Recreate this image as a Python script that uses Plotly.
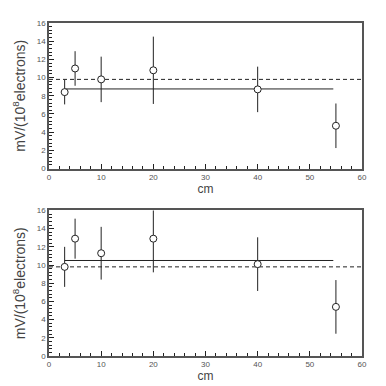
"""Signal per 10^8 electrons vs distance (two panels), fitted constant and reference level"""
import plotly.graph_objects as go
from plotly.subplots import make_subplots

# distance (cm)
X_CM = [3, 5, 10, 20, 40, 55]

# top panel
TOP_Y = [8.4, 11.0, 9.8, 10.8, 8.7, 4.7]
TOP_ERR = [1.35, 1.9, 2.5, 3.7, 2.5, 2.45]
TOP_FIT = 8.75

# bottom panel
BOT_Y = [9.8, 12.9, 11.3, 12.9, 10.1, 5.4]
BOT_ERR = [2.2, 2.2, 2.9, 3.7, 2.95, 2.95]
BOT_FIT = 10.5

REF_LEVEL = 9.8
FIT_RANGE = [3, 54.5]
X_RANGE = [0, 60]
Y_RANGE = [0, 16]

FONT = "Liberation Sans, Arial, sans-serif"
INK = "#222222"

fig = make_subplots(rows=2, cols=1, vertical_spacing=0.126)

for row, (ys, errs, fit) in enumerate([(TOP_Y, TOP_ERR, TOP_FIT), (BOT_Y, BOT_ERR, BOT_FIT)], start=1):
    fig.add_trace(go.Scatter(x=X_RANGE, y=[REF_LEVEL, REF_LEVEL], mode="lines",
                             line=dict(color=INK, width=1, dash="4px,3px"), showlegend=False),
                  row=row, col=1)
    fig.add_trace(go.Scatter(x=FIT_RANGE, y=[fit, fit], mode="lines",
                             line=dict(color=INK, width=1), showlegend=False),
                  row=row, col=1)
    fig.add_trace(go.Scatter(x=X_CM, y=ys, mode="markers",
                             error_y=dict(type="data", array=errs, width=0, thickness=1, color=INK),
                             marker=dict(symbol="circle", size=7, color="white",
                                         line=dict(color=INK, width=1)),
                             showlegend=False),
                  row=row, col=1)

    fig.update_xaxes(range=X_RANGE, dtick=10, ticks="inside", ticklen=5, tickcolor=INK,
                     minor=dict(dtick=2, ticks="inside", ticklen=3, tickcolor=INK),
                     showline=True, linecolor="#555555", linewidth=1.5, mirror=True,
                     showgrid=False, zeroline=False,
                     title=dict(text="cm", standoff=0, font=dict(size=12, color="#444444")),
                     tickfont=dict(size=8, color="#555555"),
                     row=row, col=1)
    fig.update_yaxes(range=Y_RANGE, dtick=2, ticks="inside", ticklen=5, tickcolor=INK,
                     minor=dict(dtick=0.4, ticks="inside", ticklen=3, tickcolor=INK),
                     showline=True, linecolor="#555555", linewidth=1.5, mirror=True,
                     showgrid=False, zeroline=False,
                     title=dict(text="mV/(10<sup>8</sup>electrons)", standoff=8,
                                font=dict(size=14, color="#444444")),
                     tickfont=dict(size=8, color="#555555"),
                     row=row, col=1)

fig.update_layout(
    width=386, height=386,
    margin=dict(l=41, r=32, t=15, b=38),
    plot_bgcolor="white",
    paper_bgcolor="white",
    font=dict(family=FONT, color=INK),
)

fig.write_html("out.html")
